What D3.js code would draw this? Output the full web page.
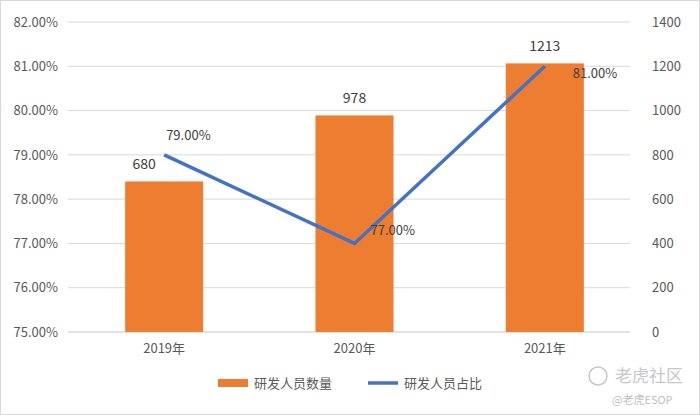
<!DOCTYPE html>
<html><head><meta charset="utf-8">
<script src="https://cdn.jsdelivr.net/npm/d3@7"></script>
<style>body{margin:0;background:#fff;font-family:"Noto Sans CJK SC","DejaVu Sans",sans-serif;}</style>
</head><body>
<svg id="chart" width="700" height="415"></svg>
<script>
let years = ['2019年', '2020年', '2021年'];
let counts = [680, 978, 1213];
let ratios = [79.0, 77.0, 81.0];
let leftTicks = [75, 76, 77, 78, 79, 80, 81, 82];
let rightTicks = [0, 200, 400, 600, 800, 1000, 1200, 1400];

let svg = d3.select('#chart');
svg.append('rect').attr('x', 0.5).attr('y', 0.5).attr('width', 699).attr('height', 414)
    .attr('fill', '#fff').attr('stroke', '#d9d9d9');

let pLeft = 68, pRight = 630, pTop = 22, pBottom = 332;
let x = d3.scaleBand().domain(years).range([69, 640]).paddingInner(0.59).paddingOuter(0.295);
let yL = d3.scaleLinear().domain([75, 82]).range([pBottom, pTop]);
let yR = d3.scaleLinear().domain([0, 1400]).range([pBottom, pTop]);

svg.append('g').selectAll('line').data(leftTicks).join('line')
    .attr('x1', pLeft).attr('x2', pRight)
    .attr('y1', d => yL(d)).attr('y2', d => yL(d))
    .attr('stroke', '#d9d9d9').attr('stroke-width', 1);

let axL = svg.append('g').attr('transform', `translate(${pLeft},0)`)
    .call(d3.axisLeft(yL).tickValues(leftTicks).tickSize(0).tickPadding(10).tickFormat(d => d.toFixed(2) + '%'));
let axR = svg.append('g').attr('transform', `translate(${pRight},0)`)
    .call(d3.axisRight(yR).tickValues(rightTicks).tickSize(0).tickPadding(22).tickFormat(d => String(d)));
let axX = svg.append('g').attr('transform', `translate(0,${pBottom})`)
    .call(d3.axisBottom(x).tickSize(0).tickPadding(12));
[axL, axR, axX].forEach(a => {
    a.select('.domain').remove();
    a.selectAll('text').attr('fill', '#595959').attr('font-size', 13)
        .attr('font-family', '"Noto Sans CJK SC","DejaVu Sans",sans-serif');
});
axX.append('line').attr('x1', pLeft).attr('x2', pRight).attr('stroke', '#d9d9d9');

svg.append('g').selectAll('rect').data(counts).join('rect')
    .attr('x', (d, i) => x(years[i])).attr('width', x.bandwidth())
    .attr('y', d => yR(d)).attr('height', d => pBottom - yR(d))
    .attr('fill', '#ed7d31');

svg.append('g').selectAll('text').data(counts).join('text')
    .attr('x', (d, i) => x(years[i]) + x.bandwidth() / 2 + (i === 0 ? -20 : 0))
    .attr('y', d => yR(d) - 12)
    .attr('text-anchor', 'middle').attr('font-size', 14).attr('fill', '#404040')
    .text(d => d);

let cx = (d, i) => x(years[i]) + x.bandwidth() / 2;
svg.append('path').datum(ratios)
    .attr('d', d3.line().x(cx).y(d => yL(d)))
    .attr('fill', 'none').attr('stroke', '#4472c4').attr('stroke-width', 3.5);

let offs = [[2, -20], [16, -13], [28, 7]];
svg.append('g').selectAll('text').data(ratios).join('text')
    .attr('x', (d, i) => cx(d, i) + offs[i][0])
    .attr('y', d => yL(d))
    .attr('dy', (d, i) => offs[i][1] + 5)
    .attr('font-size', 13).attr('fill', '#404040')
    .text(d => d.toFixed(2) + '%');

let lg = svg.append('g').attr('transform', 'translate(218,383)');
lg.append('rect').attr('x', 0).attr('y', -4).attr('width', 30).attr('height', 8).attr('fill', '#ed7d31');
lg.append('text').attr('x', 36).attr('y', 5).attr('font-size', 13).attr('fill', '#595959').text('研发人员数量');
lg.append('line').attr('x1', 150).attr('x2', 180).attr('stroke', '#4472c4').attr('stroke-width', 3.5);
lg.append('text').attr('x', 186).attr('y', 5).attr('font-size', 13).attr('fill', '#595959').text('研发人员占比');

svg.append('text').attr('x', 615).attr('y', 382).attr('font-size', 17).attr('fill', '#c8c8c8').text('老虎社区');
svg.append('circle').attr('cx', 598).attr('cy', 376).attr('r', 9).attr('fill', 'none').attr('stroke', '#c8c8c8').attr('stroke-width', 1.5);
svg.append('text').attr('x', 612).attr('y', 404).attr('font-size', 11).attr('fill', '#c0c0c0').text('@老虎ESOP');
</script>
</body></html>
